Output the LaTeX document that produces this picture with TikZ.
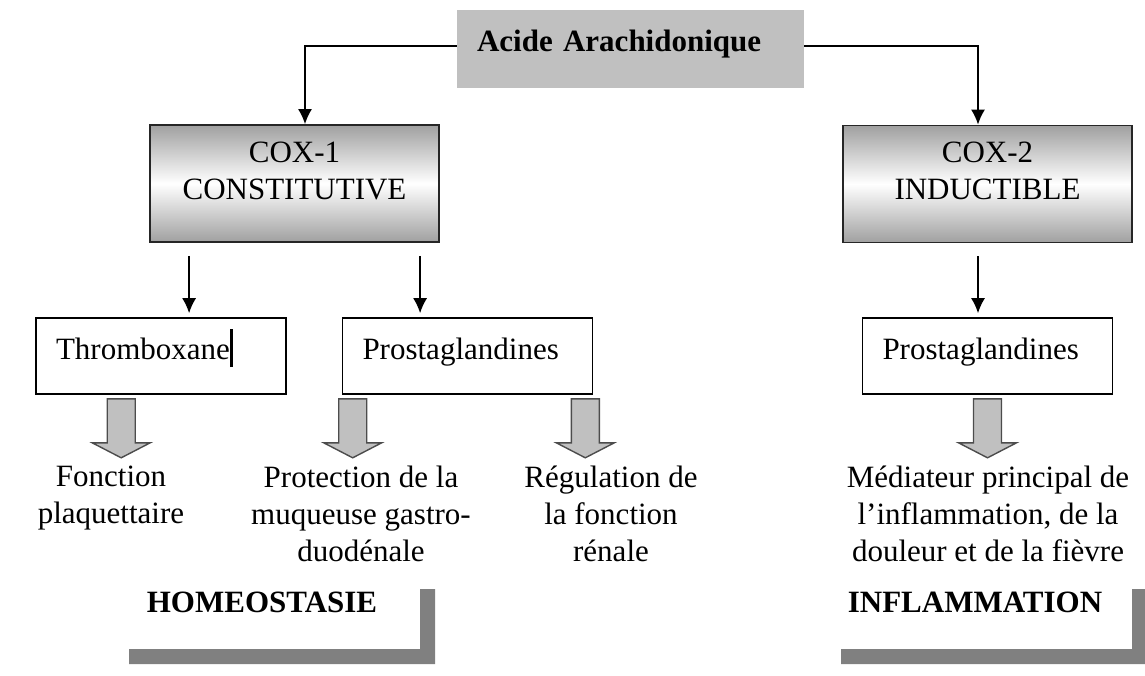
\documentclass[tikz,border=0pt]{standalone}
\usepackage{fontspec}
\setmainfont{Liberation Serif}
\usepackage{xcolor}
\usetikzlibrary{positioning, arrows.meta}
\definecolor{silver}{HTML}{C0C0C0}
\definecolor{bargray}{HTML}{808080}
\definecolor{boxgray}{HTML}{A0A0A0}
\newcommand{\diagfont}{\fontsize{31}{37}\selectfont}
% gray block arrow, #1 = middle of its top edge
\newcommand{\fatarrow}[1]{\filldraw[fill=silver, draw=black!70, line width=1.4pt] (#1) ++(-14,0) -- ++(0,44) -- ++(-15,0) -- ++(29,15) -- ++(29,-15) -- ++(-15,0) -- ++(0,-44) -- cycle;}
\tikzset{
  acidebox/.style={fill=silver, minimum width=347pt, minimum height=78pt, text width=307pt, align=left, inner xsep=20pt, text height=21pt, text depth=16pt, font=\diagfont\bfseries},
  coxbox/.style={draw=black!85, line width=1.8pt, top color=boxgray, bottom color=boxgray, middle color=white, minimum width=289pt, minimum height=117pt},
  coxtext/.style={anchor=north, align=center, inner sep=0pt, yshift=-17.5pt, font=\diagfont},
  itembox/.style={draw, line width=1.6pt, minimum width=250pt, minimum height=76pt, text width=210pt, align=left, inner xsep=20pt, text height=21pt, text depth=15pt, font=\diagfont},
  effect/.style={align=center, anchor=north, inner sep=0pt, font=\diagfont},
  domainlabel/.style={anchor=base, inner sep=0pt, font=\diagfont\bfseries},
  arr/.style={-{Latex[length=15pt,width=14pt]}, line width=1.6pt}
}

\begin{document}
\begin{tikzpicture}[x=1pt, y=-1pt]
     \useasboundingbox (0,0) rectangle (1145,675);
     \node[acidebox] (acide) at (630.5,49) {Acide Arachidonique};
     \node[coxbox, label={[coxtext]north:COX-1\\CONSTITUTIVE}] (cox1) at (294.5,183.5) {};
     \node[coxbox, label={[coxtext]north:COX-2\\INDUCTIBLE}] (cox2) at (987.5,184) {};
     \draw[arr] ([yshift=3pt]acide.west) -| ([xshift=10.5pt]cox1.north);
     \draw[arr] ([yshift=3pt]acide.east) -| ([xshift=-9.5pt]cox2.north);

     \node[itembox] (throm) at (161,356) {Thromboxane\rule[-8pt]{3pt}{38pt}};
     \node[itembox] (prostaL) at (467.5,356) {Prostaglandines};
     \node[itembox] (prostaR) at (987.5,356) {Prostaglandines};
     \coordinate (c1a) at ([xshift=40pt]cox1.south west);
     \coordinate (c1b) at ([xshift=271pt]cox1.south west);
     \coordinate (c2a) at ([xshift=-9.5pt]cox2.south);
     \draw[arr, shorten <=13pt, shorten >=4pt] (c1a) -- (c1a |- throm.north);
     \draw[arr, shorten <=13pt, shorten >=4pt] (c1b) -- (c1b |- prostaL.north);
     \draw[arr, shorten <=13pt, shorten >=4pt] (c2a) -- (c2a |- prostaR.north);

     \fatarrow{[xshift=86pt, yshift=-4pt]throm.south west}
     \fatarrow{[xshift=11pt, yshift=-4pt]prostaL.south west}
     \fatarrow{[xshift=-8pt, yshift=-4pt]prostaL.south east}
     \fatarrow{[yshift=-4pt]prostaR.south}

     \node[effect] (fonction) at (111,466) {Fonction\\plaquettaire};
     \node[effect] (protection) at (361,466) {Protection de la\\muqueuse gastro-\\duodénale};
     \node[effect] (regulation) at (611,466) {Régulation de\\la fonction\\rénale};
     \node[effect] (mediateur) at (988,466) {Médiateur principal de\\l'inflammation, de la\\douleur et de la fièvre};

     \node[domainlabel] (homeo) at (262,612) {HOMEOSTASIE};
     \node[domainlabel] (inflam) at (975,612) {INFLAMMATION};
     \fill[bargray] (420,589) -- (435,589) -- (435,664) -- (129,664) -- (129,649) -- (420,649) -- cycle; %corner under homeostasie
     \fill[bargray] (1132,589) -- (1145,589) -- (1145,664) -- (841,664) -- (841,649) -- (1132,649) -- cycle;
\end{tikzpicture}
\end{document}
